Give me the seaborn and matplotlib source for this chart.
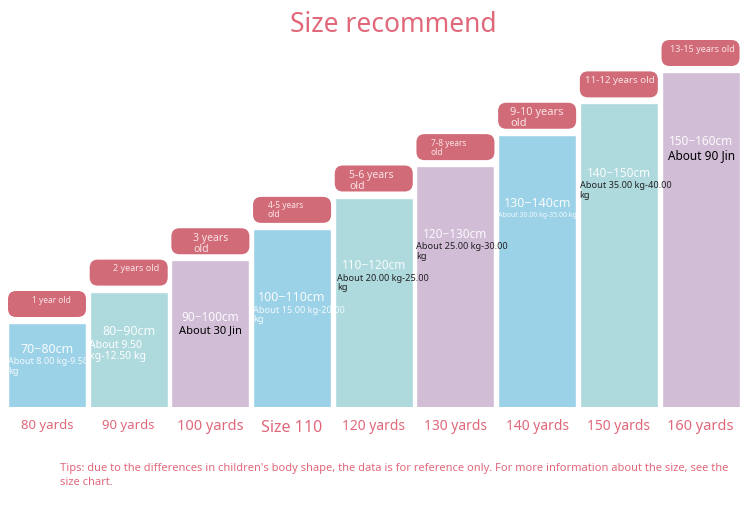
import matplotlib
matplotlib.use("Agg")
import matplotlib.pyplot as plt
import seaborn as sns
import pandas as pd
from matplotlib.patches import FancyBboxPatch

# ---- data ----
sizes = ["80 yards", "90 yards", "100 yards", "Size 110", "120 yards",
         "130 yards", "140 yards", "150 yards", "160 yards"]
height_cm = [80, 90, 100, 110, 120, 130, 140, 150, 160]
height_ranges = ["70−80cm", "80−90cm", "90−100cm", "100−110cm", "110−120cm",
                 "120−130cm", "130−140cm", "140−150cm", "150−160cm"]
ages = ["1 year old", "2 years old", "3 years\nold", "4-5 years\nold",
        "5-6 years\nold", "7-8 years\nold", "9-10 years\nold",
        "11-12 years old", "13-15 years old"]
weights = ["About 8.00 kg-9.50\nkg", "About 9.50\nkg-12.50 kg", "About 30 Jin",
           "About 15.00 kg-20.00\nkg", "About 20.00 kg-25.00\nkg",
           "About 25.00 kg-30.00\nkg", "About 30.00 kg-35.00 kg",
           "About 35.00 kg-40.00\nkg", "About 90 Jin"]
title = "Size recommend"
tips = ("Tips: due to the differences in children's body shape, the data is for reference only. "
        "For more information about the size, see the\nsize chart.")

# ---- styles ----
BLUE, TEAL, LILAC = "#9bd2e7", "#aed9dd", "#d2bdd7"
bar_colors = [BLUE, TEAL, LILAC] * 3
PILL = "#cf6371"
PINK = "#e0687a"
tick_sizes = [9.5, 9.5, 10.5, 11.5, 10, 10, 10, 10, 10.5]
age_sizes = [6, 6.5, 7.5, 6, 7.5, 6, 8, 7, 6.5]
age_ha = ["center", "right", "left", "left", "left", "left", "left", "left", "left"]
age_dx = [0.05, 0.38, -0.21, -0.3, -0.3, -0.3, -0.33, -0.42, -0.37]
cm_off = [8.3, 12.7, 18.2, 22.0, 21.7, 21.7, 22.0, 22.3, 22.0]
cm_sizes = [9, 9, 8.5, 9, 8.5, 8.5, 9, 8.5, 8.5]
w_dx = [-0.48, -0.48, -0.39, -0.48, -0.45, -0.48, -0.48, -0.48, -0.40]
w_sizes = [6.5, 7.5, 8, 6.6, 6.6, 6.6, 5, 6.6, 8.5]
w_colors = ["#ffffffdd", "white", "black", "#ffffffdd", "#222222", "#222222",
            "#ffffffdd", "#222222", "black"]

sns.set_theme(style="white")
plt.rcParams["font.family"] = ["Noto Sans", "DejaVu Sans"]

fig = plt.figure(figsize=(7.5, 5.12), dpi=100)
ax = fig.add_axes([0.0082, 105 / 512, 0.9803, 367 / 512])

df = pd.DataFrame({"size": sizes, "cm": height_cm})
sns.barplot(data=df, x="size", y="cm", hue="size", palette=bar_colors,
            width=0.955, legend=False, ax=ax, saturation=1)

px = 3.1375  # pixels per cm on y axis
ax.set_ylim(80 - 84 / px, 80 - 84 / px + 367 / px)
ax.set_xlim(-0.5, 8.5)
for s in ax.spines.values():
    s.set_visible(False)
ax.set_yticks([])
ax.set_xlabel("")
ax.set_ylabel("")
ax.set_xticks(range(len(sizes)))
ax.set_xticklabels(sizes, color=PINK)
for lbl, fs in zip(ax.get_xticklabels(), tick_sizes):
    lbl.set_fontsize(fs)
ax.tick_params(axis="x", length=0, pad=9)

half = 0.955 / 2
aspect = (1 / px) / (1 / 81.69)
for i, v in enumerate(height_cm):
    y0 = v + 6 / px
    h = 26 / px
    pill = FancyBboxPatch((i - half, y0), 2 * half, h,
                          boxstyle="round,pad=0,rounding_size=0.1",
                          mutation_aspect=aspect, fc=PILL, ec="none",
                          clip_on=False, alpha=0.95)
    ax.add_patch(pill)
    x_txt = i + age_dx[i]
    ax.text(x_txt, y0 + h - 4.5 / px, ages[i], ha=age_ha[i], va="top",
            color="#fbe3e6", fontsize=age_sizes[i], linespacing=1.0, clip_on=False)
    ax.text(i, v - cm_off[i], height_ranges[i], ha="center", va="center",
            color="white", fontsize=cm_sizes[i], alpha=0.92)
    ax.text(i + w_dx[i], v - cm_off[i] - 2.6, weights[i], ha="left", va="top",
            color=w_colors[i], fontsize=w_sizes[i], linespacing=1.05)

fig.text(393 / 750, 1 - 25 / 512, title, ha="center", va="center",
         color=PINK, fontsize=19)
fig.text(60 / 750, 1 - 463 / 512, tips, ha="left", va="top",
         color=PINK, fontsize=8.0, linespacing=1.4)

fig.savefig("out.png", dpi=100)
